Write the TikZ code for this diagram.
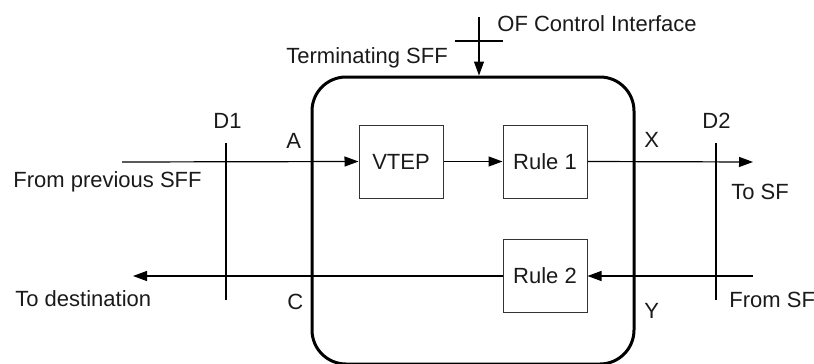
\documentclass[tikz,border=0pt]{standalone}
\usepackage{fontspec}
\setmainfont{Liberation Sans}
\usetikzlibrary{arrows.meta}
\definecolor{txt}{HTML}{1A1A1A}
\definecolor{blkline}{HTML}{333333}
\tikzset{
  lbl/.style={anchor=base west, inner sep=0pt, text=txt, font=\fontsize{11pt}{13pt}\selectfont},
  blk/.style={draw=blkline, line width=0.5pt, minimum width=42pt, minimum height=36.5pt, inner sep=0pt, text=txt, font=\fontsize{11pt}{13pt}\selectfont},
  thin/.style={line width=0.6pt},
  arr/.style={thin, -{Triangle[length=7pt, width=5pt]}},
  sffbox/.style={draw, line width=1.5pt, rounded corners=17pt, minimum width=161pt, minimum height=143.5pt, inner sep=0pt}
}
\begin{document}
\begin{tikzpicture}[x=0.5pt, y=-0.5pt]
\useasboundingbox (0,0) rectangle (814,364);
% main rounded box
\node[sffbox] (sff) at (473,220.5) {};
% blocks
\node[blk] (vtep) at (401,161.5) {VTEP};
\node[blk] (rule1) at (545,161.5) {Rule 1};
\node[blk] (rule2) at (545,276) {Rule 2};
% labels
\node[lbl] (ofci) at (497,32) {OF Control Interface};
\node[lbl] (term) at (286,63) {Terminating SFF};
\node[lbl] (fromprev) at (13,187) {From previous SFF};
\node[lbl] (tosf) at (731,199) {To SF};
\node[lbl] (todest) at (15,306) {To destination};
\node[lbl] (fromsf) at (729,307) {From SF};
\node[lbl] (d1) at (213,128) {D1};
\node[lbl] (d2) at (702,128) {D2};
\node[lbl] (la) at (286,148) {A};
\node[lbl] (lx) at (644,147) {X};
\node[lbl] (lc) at (287,309) {C};
\node[lbl] (ly) at (644,318) {Y};
% coordinates
\coordinate (ctop) at (479,17);
\coordinate (tickl) at (455,41);
\coordinate (tickr) at (503,41);
\coordinate (d1t) at (226,143);
\coordinate (d1b) at (226,300);
\coordinate (d2t) at (716,143);
\coordinate (d2b) at (716,300);
\coordinate (inA) at (122,162);
\coordinate (outX) at (753,162);
\coordinate (inY) at (753,276);
\coordinate (outC) at (133,276);
% control interface
\draw[arr] (ctop) -- (ctop |- sff.north);
\draw[thin] (tickl) -- (tickr);
% reference lines
\draw[thin] (d1t) -- (d1b);
\draw[thin] (d2t) -- (d2b);
% flows
\draw[arr] (inA) -- (vtep.west);
\draw[arr] (vtep) -- (rule1);
\draw[arr] (rule1.east) -- (outX);
\draw[arr] (inY) -- (rule2.east);
\draw[arr] (rule2.west) -- (outC);
\end{tikzpicture}
\end{document}
